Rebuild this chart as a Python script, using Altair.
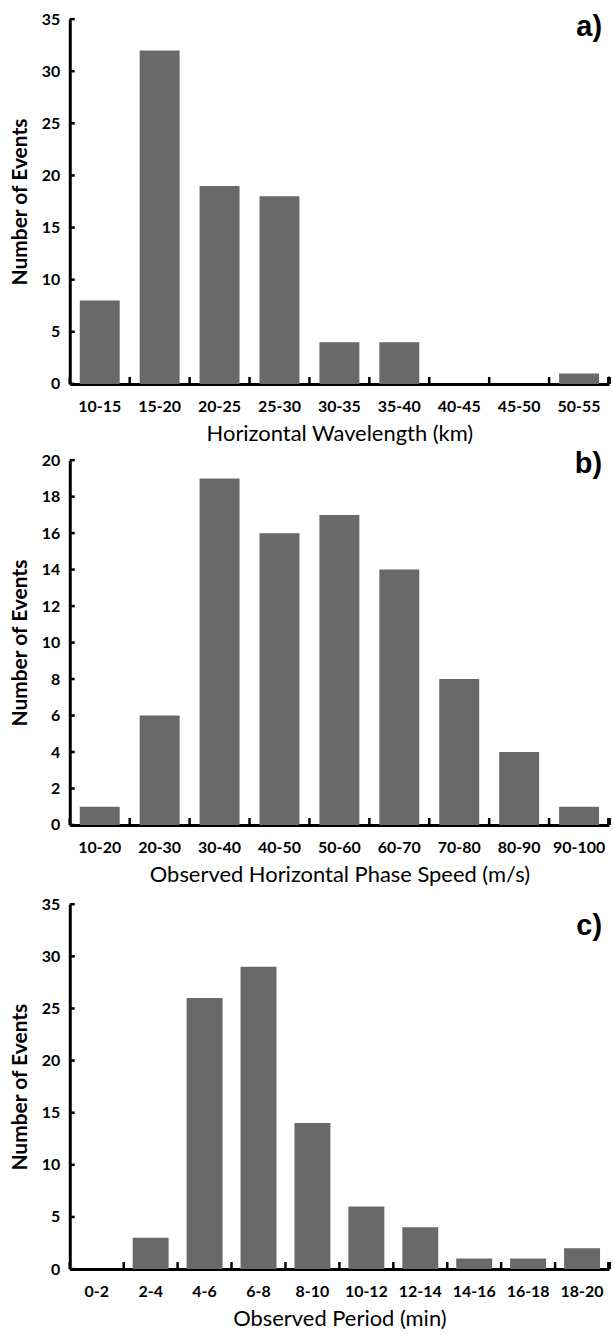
import altair as alt
import pandas as pd

# ---- data ----
cats_a = ["10-15", "15-20", "20-25", "25-30", "30-35", "35-40", "40-45", "45-50", "50-55"]
vals_a = [8, 32, 19, 18, 4, 4, 0, 0, 1]

cats_b = ["10-20", "20-30", "30-40", "40-50", "50-60", "60-70", "70-80", "80-90", "90-100"]
vals_b = [1, 6, 19, 16, 17, 14, 8, 4, 1]

cats_c = ["0-2", "2-4", "4-6", "6-8", "8-10", "10-12", "12-14", "14-16", "16-18", "18-20"]
vals_c = [0, 3, 26, 29, 14, 6, 4, 1, 1, 2]

xtitle_a = "Horizontal Wavelength (km)"
xtitle_b = "Observed Horizontal Phase Speed (m/s)"
xtitle_c = "Observed Period (min)"
ytitle = "Number of Events"

W = 541
H = 366
BAR = "#696969"
FONT = "Lato"


def panel(cats, vals, ymax, ystep, xtitle, tag, tag_y):
    df = pd.DataFrame({"cat": cats, "count": vals})
    n = len(cats)
    gap = (W / n) / 3.0
    yvals = list(range(0, ymax + 1, ystep))
    tdf = pd.DataFrame({"count": yvals})
    xscale = alt.Scale(domain=cats, paddingInner=1 / 3, paddingOuter=1 / 6)
    yscale = alt.Scale(domain=[0, ymax], nice=False)
    yaxis = alt.Axis(values=yvals, labelPadding=10, titlePadding=11, labelOverlap=False)
    xaxis = alt.Axis(labelAngle=0, labelPadding=15, titlePadding=9)

    bars = alt.Chart(df).mark_bar(color=BAR).encode(
        x=alt.X("cat:N", sort=cats, scale=xscale, title=xtitle, axis=xaxis),
        y=alt.Y("count:Q", scale=yscale, title=ytitle, axis=yaxis),
    )
    xticks = alt.Chart(df).mark_rule(color="black", strokeWidth=2.5, xOffset=-gap / 2).encode(
        x=alt.X("cat:N", sort=cats, scale=xscale, bandPosition=0, title=xtitle, axis=xaxis),
        y=alt.value(H - 7),
        y2=alt.value(H),
    )
    lasttick = alt.Chart(df).mark_rule(color="black", strokeWidth=2.5).encode(
        x=alt.value(W), y=alt.value(H - 7), y2=alt.value(H)
    )
    yticks = alt.Chart(tdf).mark_rule(color="black", strokeWidth=2.5).encode(
        y=alt.Y("count:Q", scale=yscale, title=ytitle, axis=yaxis),
        x=alt.value(0),
        x2=alt.value(5),
    )
    label = alt.Chart(pd.DataFrame({"t": [tag]})).mark_text(
        font="Liberation Sans", fontSize=29, fontWeight="bold",
        align="right", baseline="middle", color="black"
    ).encode(text="t:N", x=alt.value(W - 7), y=alt.value(tag_y))
    return alt.layer(bars, xticks, lasttick, yticks, label).properties(width=W, height=H)


pa = panel(cats_a, vals_a, 35, 5, xtitle_a, "a)", 8)
pb = panel(cats_b, vals_b, 20, 2, xtitle_b, "b)", 4)
pc = panel(cats_c, vals_c, 35, 5, xtitle_c, "c)", 22)

chart = alt.vconcat(
    alt.vconcat(pa, pb, spacing=5.5), pc, spacing=10
).properties(
    padding={"left": 9, "top": 9, "right": 2, "bottom": 0}
).configure_view(stroke=None).configure_axis(
    domainColor="black", domainWidth=3, ticks=False, grid=False,
    labelFont=FONT, labelFontWeight="bold", labelFontSize=16, labelColor="black",
    titleFont=FONT, titleFontWeight="bold", titleFontSize=21, titleColor="black",
).configure_axisX(titleFontWeight="normal", titleFontSize=22
).configure_axisY(labelOverlap=False)

chart.save("out.html", embed_options={"renderer": "svg", "actions": False})
